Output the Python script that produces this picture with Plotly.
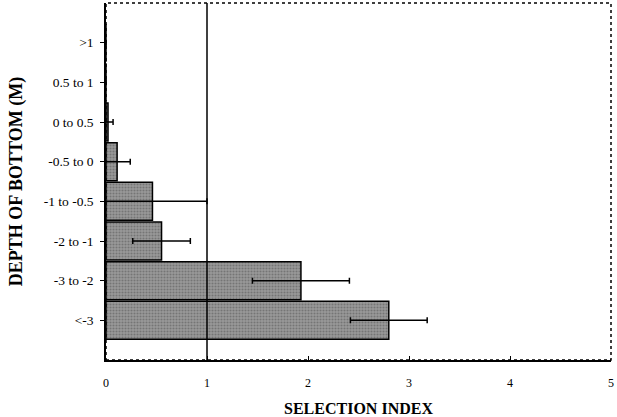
import plotly.graph_objects as go

# data, top to bottom in the picture
depth = ["<-3", "-3 to -2", "-2 to -1", "-1 to -0.5", "-0.5 to 0", "0 to 0.5", "0.5 to 1", ">1"]
sel_index = [2.80, 1.93, 0.55, 0.46, 0.11, 0.02, 0, 0]
err = [0.38, 0.48, 0.285, 0.54, 0.13, 0.05, 0, 0]

FONT = "Liberation Serif"

fig = go.Figure()

fig.add_trace(go.Bar(
    x=sel_index,
    y=depth,
    orientation="h",
    marker=dict(color="#8e8e8e",
                line=dict(color="black", width=1.5),
                pattern=dict(shape=".", fgcolor="#505050", bgcolor="#9a9a9a",
                             size=3, solidity=0.4)),
    error_x=dict(type="data", array=err, visible=True,
                 color="black", thickness=1.5, width=3),
    width=0.96,
    showlegend=False,
))

# reference line at index = 1
fig.add_vline(x=1, line=dict(color="black", width=1.5))

# dotted frame around the plot area
fig.add_shape(type="rect", xref="paper", yref="paper", x0=0, y0=0, x1=1, y1=1,
              line=dict(color="black", width=1.5, dash="dot"), layer="above")

fig.update_xaxes(
    range=[0, 5],
    dtick=1,
    automargin=False,
    showgrid=False,
    zeroline=False,
    showline=True, linecolor="black", linewidth=1.5,
    ticks="inside", ticklen=4, tickcolor="black",
    ticklabelstandoff=11,
    tickfont=dict(family=FONT, size=12, color="black"),
    title=dict(text="<b>SELECTION INDEX</b>", font=dict(family=FONT, size=16, color="black"),
               standoff=16),
)

fig.update_yaxes(
    type="category",
    categoryorder="array",
    categoryarray=depth,
    range=[-1, 8],
    automargin=False,
    showgrid=False,
    zeroline=False,
    showline=True, linecolor="black", linewidth=1.5,
    ticks="outside", ticklen=4, tickcolor="black",
    ticklabelstandoff=4,
    tickfont=dict(family=FONT, size=13.5, color="black"),
    title=dict(text="<b>DEPTH OF BOTTOM (M)</b>", font=dict(family=FONT, size=18, color="black"),
               standoff=16),
)

fig.update_layout(
    width=617, height=417,
    margin=dict(l=106, r=6, t=3, b=57),
    plot_bgcolor="white",
    paper_bgcolor="white",
    font=dict(family=FONT, color="black"),
)

# the page body has a default 8px margin; drop it so the figure fills the window
fig.write_html("out.html", config={"displayModeBar": False},
               post_script="document.body.style.margin='0';")
